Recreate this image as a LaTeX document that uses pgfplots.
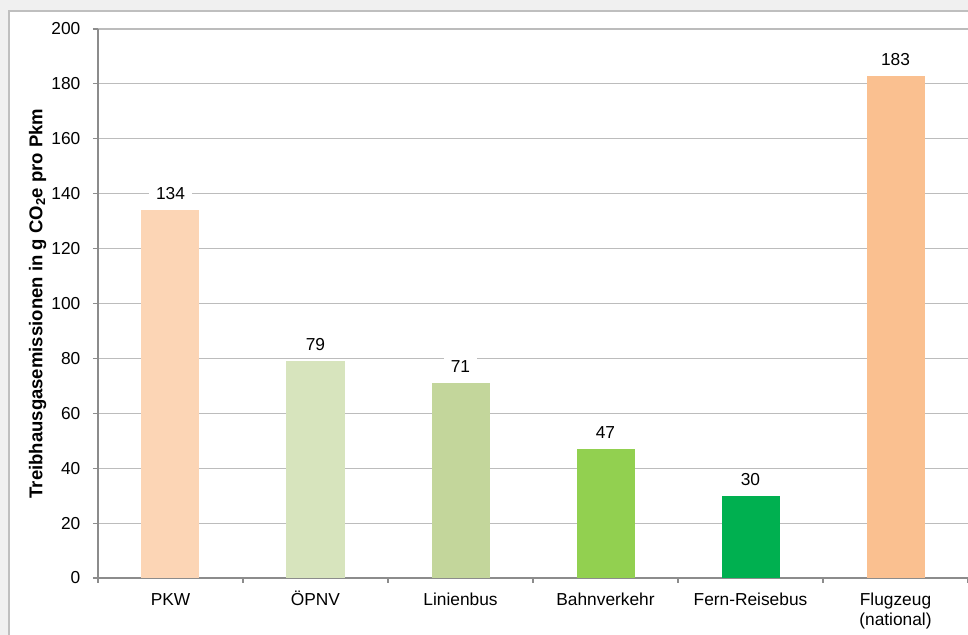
\documentclass[border=0pt]{standalone}
\usepackage{pgfplots}
\pgfplotsset{compat=1.18}
\usepackage{fontspec}
\setmainfont{Liberation Sans}
\definecolor{bgc}{HTML}{F0F0F0}
\definecolor{panelb}{HTML}{BFBFBF}
\definecolor{gridc}{HTML}{BCBCBC}
\definecolor{axc}{HTML}{8C8C8C}
\definecolor{cA}{HTML}{FCD5B5}
\definecolor{cB}{HTML}{D7E4BD}
\definecolor{cC}{HTML}{C3D69B}
\definecolor{cD}{HTML}{92D050}
\definecolor{cE}{HTML}{00B050}
\definecolor{cF}{HTML}{FAC090}
\begin{document}
\fontsize{13}{15}\selectfont
\begin{tikzpicture}
\path[use as bounding box] (0,0) rectangle (726pt,476.25pt);
\clip (0,0) rectangle (726pt,476.25pt);
\fill[bgc] (0,0) rectangle (726pt,476.25pt);
\draw[panelb, fill=white, line width=1pt] (6.75pt,-20pt) rectangle (760pt,468pt);
\begin{axis}[
  at={(73.5pt,42.75pt)}, anchor=south west,
  scale only axis, width=652.5pt, height=411.75pt,
  xmin=-0.5, xmax=5.5, ymin=0, ymax=200,
  axis x line*=bottom, axis y line*=left,
  axis line style={axc, -, line width=0.8pt},
  ytick={0,20,...,200},
  ymajorgrids, grid style={gridc, line width=0.8pt},
  tick align=outside,
  major tick length=3.75pt,
  tick style={axc, line width=0.8pt},
  xtick={-0.5,0.5,...,5.5}, xticklabels={},
  extra x ticks={0,1,2,3,4,5},
  extra x tick labels={{\vphantom{Ö}PKW},ÖPNV,{\vphantom{Ö}Linienbus},{\vphantom{Ö}Bahnverkehr},{\vphantom{Ö}Fern-Reisebus},{\vphantom{Ö}Flugzeug\\(national)}},
  extra x tick style={major tick length=0pt, grid=none,
     xticklabel style={align=center, anchor=north, yshift=-5.5pt, font=\fontsize{13}{15}\selectfont}},
  /pgf/number format/assume math mode=true,
  yticklabel style={font=\fontsize{13}{15}\selectfont, xshift=-5pt},
  ylabel={\bfseries Treibhausgasemissionen in g CO\textsubscript{2}e pro Pkm},
  ylabel style={font=\fontsize{13.9}{15}\selectfont, yshift=-5pt},
  bar width=43.5pt,
  nodes near coords,
  nodes near coords style={font=\fontsize{13}{15}\selectfont, fill=white, inner xsep=5pt, inner ysep=2pt, yshift=5.5pt},
  clip=false,
]
\addplot[ybar, fill=cA, draw=none, bar shift=0pt] coordinates {(0,134)};
\addplot[ybar, fill=cB, draw=none, bar shift=0pt] coordinates {(1,79)};
\addplot[ybar, fill=cC, draw=none, bar shift=0pt] coordinates {(2,71)};
\addplot[ybar, fill=cD, draw=none, bar shift=0pt] coordinates {(3,47)};
\addplot[ybar, fill=cE, draw=none, bar shift=0pt] coordinates {(4,30)};
\addplot[ybar, fill=cF, draw=none, bar shift=0pt] coordinates {(5,183)};
\end{axis}
\end{tikzpicture}
\end{document}
